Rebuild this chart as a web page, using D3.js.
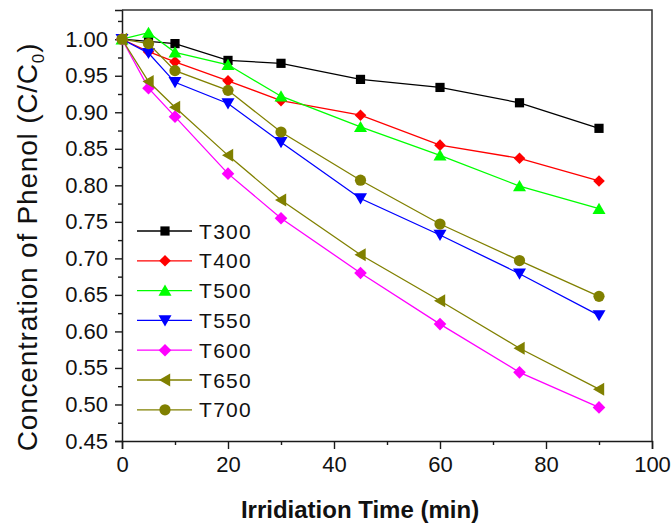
<!DOCTYPE html>
<html>
<head>
<meta charset="utf-8">
<script src="https://cdn.jsdelivr.net/npm/d3@7"></script>
<style>
  html, body { margin: 0; padding: 0; background: #fff; }
  svg { display: block; font-family: "Liberation Sans", Arial, sans-serif; }
</style>
</head>
<body>
<svg id="chart" width="671" height="526"></svg>
<script>
// ---- data ----
const times = [0, 5, 10, 20, 30, 45, 60, 75, 90];
const seriesNames = ["T300", "T400", "T500", "T550", "T600", "T650", "T700"];
const T300 = [1.000, 0.997, 0.994, 0.971, 0.967, 0.945, 0.934, 0.913, 0.878];
const T400 = [1.000, 0.983, 0.969, 0.943, 0.916, 0.896, 0.855, 0.837, 0.806];
const T500 = [1.000, 1.009, 0.982, 0.965, 0.922, 0.880, 0.841, 0.799, 0.768];
const T550 = [1.000, 0.981, 0.941, 0.912, 0.859, 0.782, 0.732, 0.679, 0.622];
const T600 = [1.000, 0.933, 0.894, 0.816, 0.755, 0.680, 0.610, 0.544, 0.496];
const T650 = [1.000, 0.942, 0.907, 0.841, 0.780, 0.705, 0.642, 0.577, 0.521];
const T700 = [1.000, 0.994, 0.957, 0.930, 0.873, 0.807, 0.747, 0.697, 0.648];
const seriesValues = [T300, T400, T500, T550, T600, T650, T700];
const xMajorTicks = [0, 20, 40, 60, 80, 100];
const xMinorTicks = [10, 30, 50, 70, 90];
const yMajorTicks = [0.45, 0.50, 0.55, 0.60, 0.65, 0.70, 0.75, 0.80, 0.85, 0.90, 0.95, 1.00];
const yMinorTicks = [0.475, 0.525, 0.575, 0.625, 0.675, 0.725, 0.775, 0.825, 0.875, 0.925, 0.975, 1.025];
const xTitle = "Irridiation Time (min)";
const yTitleMain = "Concentration of Phenol (C/C";
const yTitleSub = "0";
const yTitleEnd = ")";

// ---- styles ----
const colors = ["#000000", "#ff0000", "#00ff00", "#0000ff", "#ff00ff", "#808000", "#808000"];
const shapes = ["square", "diamond", "triUp", "triDown", "diamondL", "triLeft", "circle"];

const svg = d3.select("#chart");
const m = { left: 122, top: 10, right: 652, bottom: 441 };

const x = d3.scaleLinear().domain([0, 100]).range([m.left, m.right]);
const y = d3.scaleLinear().domain([0.45, 1.04]).range([m.bottom, m.top]);

function markerPath(shape) {
  const p = d3.path();
  if (shape === "square") {
    const s = 4.6; p.rect(-s, -s, 2 * s, 2 * s);
  } else if (shape === "diamond") {
    const r = 5.8; p.moveTo(0, -r); p.lineTo(r, 0); p.lineTo(0, r); p.lineTo(-r, 0); p.closePath();
  } else if (shape === "diamondL") {
    const r = 6.3; p.moveTo(0, -r); p.lineTo(r, 0); p.lineTo(0, r); p.lineTo(-r, 0); p.closePath();
  } else if (shape === "triUp") {
    p.moveTo(0, -6); p.lineTo(6.5, 5.2); p.lineTo(-6.5, 5.2); p.closePath();
  } else if (shape === "triDown") {
    p.moveTo(0, 6); p.lineTo(6.5, -5.2); p.lineTo(-6.5, -5.2); p.closePath();
  } else if (shape === "triLeft") {
    p.moveTo(-6, 0); p.lineTo(5.2, -6.5); p.lineTo(5.2, 6.5); p.closePath();
  } else if (shape === "circle") {
    p.arc(0, 0, 5.6, 0, 2 * Math.PI);
  }
  return p.toString();
}

// ---- axes ----
const axisColor = "#1a1a1a";
const gx = svg.append("g").attr("transform", `translate(0,${m.bottom})`)
  .call(d3.axisBottom(x).tickValues(xMajorTicks).tickSize(8).tickPadding(7).tickFormat(d3.format("d")));
svg.append("g").attr("transform", `translate(0,${m.bottom})`)
  .call(d3.axisBottom(x).tickValues(xMinorTicks).tickSize(4).tickFormat(""))
  .select(".domain").remove();
const gy = svg.append("g").attr("transform", `translate(${m.left},0)`)
  .call(d3.axisLeft(y).tickValues(yMajorTicks).tickSize(7).tickPadding(7).tickFormat(d3.format(".2f")));
svg.append("g").attr("transform", `translate(${m.left},0)`)
  .call(d3.axisLeft(y).tickValues(yMinorTicks).tickSize(4).tickFormat(""))
  .select(".domain").remove();

svg.selectAll(".tick line").attr("stroke", axisColor).attr("stroke-width", 1.4);
svg.selectAll(".domain").attr("stroke", axisColor).attr("stroke-width", 1.5);
svg.selectAll(".tick text").attr("fill", "#111").style("font-size", "22px")
  .style("font-family", '"Liberation Sans", Arial, sans-serif');

// frame (top and right)
svg.append("path")
  .attr("d", `M${m.left},${m.top}H${m.right}V${m.bottom}`)
  .attr("fill", "none").attr("stroke", "#333").attr("stroke-width", 1.5);

// ---- series ----
const line = d3.line().x((d, i) => x(times[i])).y(d => y(d));
seriesValues.forEach((vals, si) => {
  const g = svg.append("g");
  g.append("path").datum(vals).attr("d", line)
    .attr("fill", "none").attr("stroke", colors[si]).attr("stroke-width", 1.3);
  g.selectAll("path.mk").data(vals).enter().append("path").attr("class", "mk")
    .attr("d", markerPath(shapes[si]))
    .attr("transform", (d, i) => `translate(${x(times[i])},${y(d)})`)
    .attr("fill", colors[si]);
});

// ---- legend ----
const leg = svg.append("g");
seriesNames.forEach((name, i) => {
  const ly = 231 + i * 29.8;
  leg.append("line").attr("x1", 137).attr("x2", 192).attr("y1", ly).attr("y2", ly)
    .attr("stroke", colors[i]).attr("stroke-width", 1.3);
  leg.append("path").attr("d", markerPath(shapes[i]))
    .attr("transform", `translate(165,${ly})`).attr("fill", colors[i]);
  leg.append("text").attr("x", 199).attr("y", ly + 7.5).text(name)
    .style("font-size", "21px").style("letter-spacing", "1.3px").attr("fill", "#111");
});

// ---- titles ----
svg.append("text").attr("x", (m.left + m.right) / 2 - 27).attr("y", 518)
  .attr("text-anchor", "middle").style("font-size", "24px").style("font-weight", "bold")
  .attr("fill", "#111").text(xTitle);

const yt = svg.append("text")
  .attr("transform", "translate(37,247) rotate(-90)")
  .attr("text-anchor", "middle").style("font-size", "28px").style("letter-spacing", "0.8px")
  .attr("fill", "#111");
yt.append("tspan").text(yTitleMain);
yt.append("tspan").attr("dy", 7).style("font-size", "17px").text(yTitleSub);
yt.append("tspan").attr("dy", -7).text(yTitleEnd);
</script>
</body>
</html>
